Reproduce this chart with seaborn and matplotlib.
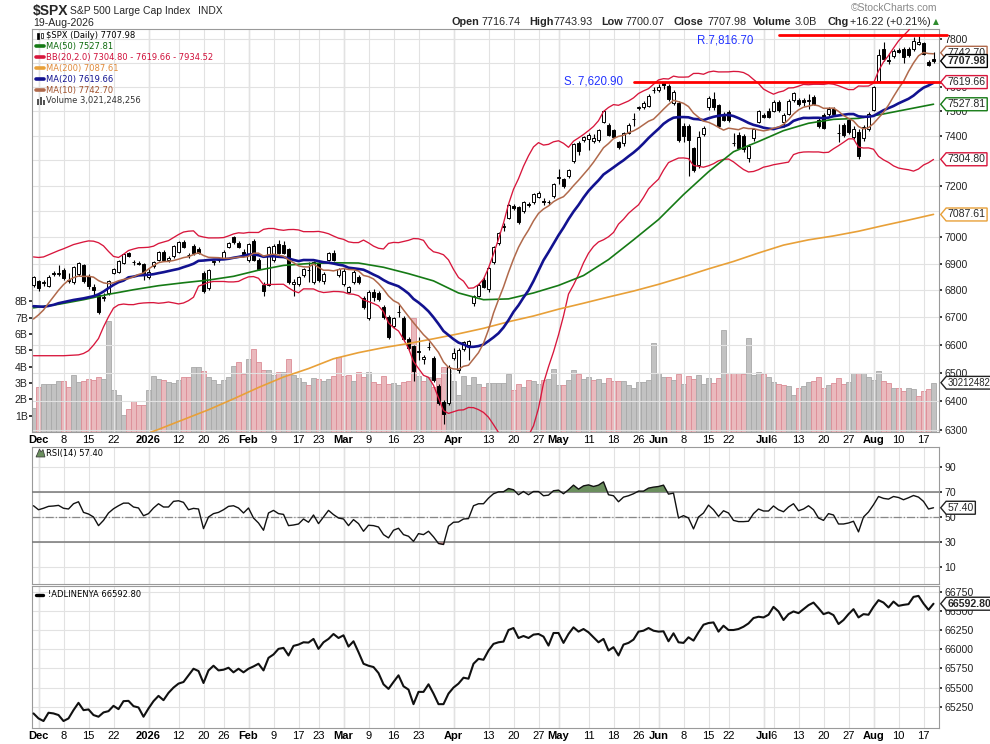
import numpy as np
import pandas as pd
import matplotlib
matplotlib.use("Agg")
import matplotlib.pyplot as plt
import seaborn as sns
from matplotlib.lines import Line2D
from matplotlib.patches import Rectangle
from matplotlib.path import Path
from matplotlib.ticker import FixedLocator, NullLocator, FuncFormatter

sns.set_theme(style="white")
plt.rcParams['font.family'] = ['DejaVu Sans']

# --- $SPX daily candles, Nov 28 2025 .. Aug 19 2026 ---
opens = [
    6820, 6835, 6826, 6817, 6866, 6862, 6876, 6838, 6829, 6860,
    6895, 6853, 6812, 6781, 6770, 6790, 6866, 6870, 6901, 6939,
    6906, 6903, 6898, 6850, 6889, 6915, 6944, 6914, 6927, 6945,
    6982, 6932, 6968, 6955, 6866, 6808, 6905, 6912, 6922, 6964,
    7000, 6977, 6945, 6914, 6987, 6914, 6820, 6820, 6914, 6975,
    6970, 6955, 6825, 6823, 6857, 6877, 6831, 6901, 6835, 6914,
    6941, 6857, 6823, 6795, 6831, 6851, 6770, 6698, 6795, 6791,
    6737, 6703, 6669, 6721, 6699, 6623, 6595, 6578, 6548, 6592,
    6553, 6454, 6398, 6392, 6553, 6510, 6584, 6599, 6752, 6780,
    6839, 6806, 6907, 6977, 7040, 7075, 7120, 7118, 7100, 7130,
    7137, 7155, 7140, 7138, 7158, 7232, 7226, 7237, 7296, 7371,
    7383, 7388, 7380, 7383, 7457, 7443, 7423, 7376, 7369, 7410,
    7468, 7513, 7515, 7520, 7585, 7585, 7615, 7605, 7532, 7535,
    7440, 7440, 7350, 7283, 7405, 7515, 7550, 7525, 7480, 7496,
    7372, 7402, 7398, 7311, 7389, 7455, 7484, 7502, 7500, 7537,
    7455, 7489, 7544, 7547, 7547, 7540, 7557, 7462, 7482, 7487,
    7509, 7410, 7441, 7462, 7396, 7415, 7389, 7428, 7505, 7626,
    7760, 7712, 7728, 7755, 7760, 7760, 7757, 7779, 7785, 7703,
    7716.74]
highs = [
    6855, 6840, 6838, 6856, 6872, 6893, 6882, 6864, 6891, 6906,
    6900, 6860, 6822, 6790, 6790, 6840, 6882, 6915, 6940, 6944,
    6915, 6910, 6902, 6880, 6908, 6948, 6950, 6928, 6972, 6985,
    6990, 6940, 6975, 6962, 6872, 6880, 6915, 6920, 6950, 6982,
    7005, 6985, 6955, 6978, 6995, 6920, 6830, 6968, 6975, 6990,
    6985, 6960, 6842, 6852, 6882, 6907, 6910, 6908, 6870, 6945,
    6950, 6882, 6882, 6815, 6875, 6858, 6778, 6800, 6805, 6798,
    6745, 6710, 6702, 6745, 6705, 6630, 6600, 6630, 6565, 6610,
    6560, 6462, 6405, 6528, 6590, 6590, 6615, 6618, 6784, 6826,
    6848, 6886, 6968, 7020, 7055, 7130, 7128, 7122, 7140, 7138,
    7170, 7178, 7150, 7145, 7212, 7265, 7232, 7265, 7370, 7378,
    7400, 7410, 7405, 7428, 7505, 7450, 7428, 7380, 7415, 7450,
    7490, 7522, 7540, 7570, 7600, 7612, 7622, 7612, 7585, 7540,
    7450, 7448, 7355, 7420, 7438, 7560, 7580, 7530, 7495, 7505,
    7410, 7415, 7405, 7365, 7432, 7505, 7492, 7512, 7545, 7545,
    7490, 7548, 7580, 7555, 7555, 7571, 7565, 7470, 7490, 7515,
    7515, 7445, 7450, 7470, 7440, 7425, 7442, 7495, 7605, 7760,
    7790, 7740, 7760, 7765, 7768, 7768, 7810, 7815, 7790, 7712,
    7743.93]
lows = [
    6812, 6798, 6815, 6812, 6852, 6852, 6840, 6827, 6825, 6855,
    6828, 6805, 6778, 6712, 6760, 6782, 6860, 6865, 6898, 6925,
    6895, 6893, 6840, 6843, 6884, 6910, 6908, 6905, 6922, 6940,
    6958, 6920, 6932, 6935, 6790, 6800, 6895, 6905, 6918, 6960,
    6975, 6958, 6930, 6905, 6910, 6875, 6778, 6815, 6905, 6935,
    6935, 6825, 6778, 6815, 6850, 6831, 6825, 6832, 6825, 6908,
    6908, 6850, 6815, 6788, 6825, 6822, 6730, 6690, 6760, 6760,
    6695, 6620, 6660, 6700, 6615, 6582, 6470, 6545, 6530, 6580,
    6468, 6388, 6320, 6385, 6545, 6500, 6578, 6545, 6740, 6775,
    6808, 6795, 6900, 6970, 7025, 7070, 7105, 7050, 7095, 7115,
    7130, 7150, 7125, 7125, 7150, 7205, 7190, 7230, 7290, 7320,
    7375, 7340, 7372, 7375, 7450, 7398, 7390, 7345, 7360, 7405,
    7440, 7505, 7510, 7515, 7575, 7580, 7590, 7540, 7525, 7375,
    7375, 7240, 7255, 7270, 7398, 7505, 7505, 7430, 7460, 7455,
    7360, 7345, 7335, 7295, 7380, 7450, 7470, 7470, 7495, 7495,
    7435, 7485, 7538, 7520, 7522, 7510, 7525, 7430, 7425, 7480,
    7480, 7375, 7395, 7405, 7385, 7305, 7380, 7420, 7500, 7620,
    7710, 7695, 7720, 7740, 7700, 7725, 7750, 7775, 7735, 7688,
    7700.07]
closes = [
    6849, 6810, 6830, 6849, 6860, 6865, 6845, 6836, 6886, 6901,
    6833, 6815, 6800, 6720, 6775, 6835, 6878, 6911, 6935, 6930,
    6904, 6900, 6857, 6870, 6904, 6945, 6915, 6922, 6968, 6980,
    6964, 6934, 6939, 6940, 6797, 6876, 6910, 6914, 6945, 6977,
    6980, 6964, 6936, 6974, 6914, 6880, 6797, 6964, 6968, 6939,
    6941, 6829, 6832, 6849, 6878, 6874, 6907, 6838, 6862, 6941,
    6914, 6878, 6872, 6812, 6870, 6829, 6737, 6795, 6774, 6768,
    6703, 6630, 6697, 6718, 6623, 6590, 6506, 6576, 6558, 6593,
    6474, 6394, 6354, 6522, 6571, 6580, 6610, 6614, 6780, 6820,
    6814, 6882, 6964, 7017, 7042, 7123, 7113, 7060, 7135, 7125,
    7167, 7172, 7135, 7136, 7208, 7234, 7197, 7262, 7366, 7336,
    7396, 7402, 7392, 7423, 7502, 7403, 7396, 7353, 7409, 7443,
    7466, 7515, 7532, 7563, 7587, 7601, 7606, 7549, 7580, 7383,
    7400, 7383, 7263, 7393, 7430, 7553, 7515, 7437, 7465, 7462,
    7370, 7350, 7345, 7356, 7428, 7502, 7476, 7476, 7537, 7503,
    7484, 7540, 7574, 7530, 7536, 7544, 7530, 7438, 7432, 7509,
    7487, 7409, 7402, 7415, 7428, 7317, 7435, 7487, 7599, 7735,
    7718, 7708, 7752, 7748, 7725, 7732, 7793, 7788, 7739, 7692,
    7707.98]
volume_b = [
    1.47, 2.78, 2.94, 2.94, 2.94, 3.15, 3.15, 2.78, 3.52, 3.09,
    3.15, 3.25, 3.20, 3.39, 3.25, 6.79, 2.58, 2.29, 1.04, 1.41,
    1.92, 1.68, 1.68, 2.58, 3.45, 3.25, 3.18, 3.04, 3.00, 3.18,
    3.35, 3.35, 4.00, 3.96, 3.76, 3.39, 3.18, 2.94, 3.18, 3.35,
    4.07, 4.27, 3.56, 4.48, 5.09, 4.27, 3.80, 3.82, 3.52, 3.66,
    3.70, 4.48, 3.52, 3.31, 3.04, 2.90, 3.31, 3.25, 3.15, 3.25,
    3.45, 4.58, 3.45, 3.52, 3.11, 3.66, 3.35, 3.66, 3.04, 2.94,
    3.45, 2.94, 2.98, 2.90, 3.04, 3.15, 6.99, 3.45, 3.15, 3.35,
    2.78, 3.31, 3.96, 3.80, 3.15, 2.29, 3.45, 2.90, 3.39, 2.94,
    2.78, 2.98, 3.00, 2.98, 3.00, 3.56, 2.58, 2.94, 2.74, 3.20,
    3.10, 2.94, 3.20, 3.25, 3.87, 2.90, 2.90, 3.20, 3.80, 3.56,
    3.25, 3.35, 3.20, 3.25, 3.00, 3.30, 3.10, 3.10, 3.10, 2.90,
    2.70, 3.06, 3.06, 3.20, 5.45, 3.62, 3.35, 3.35, 3.20, 3.56,
    2.94, 3.45, 3.25, 3.50, 2.94, 3.30, 3.00, 3.30, 6.26, 3.62,
    3.62, 3.62, 3.56, 5.77, 3.50, 3.66, 3.56, 3.40, 3.04, 2.94,
    2.90, 2.80, 2.29, 2.70, 2.80, 3.06, 3.15, 3.40, 2.70, 2.90,
    3.00, 3.30, 2.94, 3.06, 3.62, 3.62, 3.62, 3.40, 3.20, 3.72,
    3.10, 3.00, 2.70, 2.70, 2.50, 2.70, 2.64, 2.23, 2.50, 2.64,
    3.02]
rsi = [
    59.0, 55.8, 57.0, 58.5, 58.8, 59.3, 57.0, 56.4, 60.6, 62.2,
    53.7, 52.4, 50.0, 43.1, 47.3, 53.2, 56.6, 59.0, 61.1, 61.1,
    58.0, 57.2, 51.0, 52.7, 57.2, 60.6, 58.0, 58.0, 62.5, 63.0,
    61.7, 55.8, 56.9, 56.4, 40.7, 50.0, 52.7, 53.7, 55.8, 58.5,
    59.0, 57.2, 53.2, 57.2, 49.2, 45.2, 39.4, 53.2, 55.3, 52.7,
    52.1, 43.1, 43.6, 44.4, 48.4, 45.8, 51.6, 44.7, 50.0, 55.3,
    51.9, 49.2, 48.4, 43.1, 47.9, 44.7, 38.6, 43.4, 43.1, 42.0,
    35.9, 33.3, 39.4, 41.0, 35.9, 34.6, 30.5, 36.7, 35.9, 38.6,
    34.1, 28.8, 28.0, 42.6, 45.8, 46.0, 48.4, 48.7, 59.0, 60.6,
    60.6, 65.1, 68.6, 70.1, 70.2, 72.8, 71.8, 67.8, 70.4, 67.8,
    70.4, 70.4, 67.0, 67.5, 71.0, 71.5, 68.6, 71.8, 75.5, 72.3,
    74.9, 75.7, 74.4, 75.5, 78.1, 67.8, 67.0, 62.2, 65.9, 67.0,
    68.6, 70.7, 70.7, 73.1, 73.9, 74.4, 75.5, 68.3, 69.1, 49.2,
    51.1, 49.2, 40.5, 50.0, 53.2, 59.5, 55.8, 50.5, 55.0, 53.2,
    47.3, 46.3, 46.3, 46.6, 52.7, 56.4, 54.8, 54.8, 58.8, 55.8,
    54.2, 58.0, 60.6, 55.0, 56.4, 59.0, 55.8, 49.2, 47.3, 52.7,
    51.6, 44.4, 44.4, 45.2, 46.6, 38.1, 50.0, 54.0, 59.8, 66.4,
    64.9, 64.3, 66.4, 65.6, 63.8, 65.4, 67.2, 65.9, 62.5, 56.4,
    57.4]
adline = [
    65162, 65097, 65063, 65171, 65162, 65141, 65063, 65097, 65205, 65300,
    65205, 65214, 65141, 65119, 65175, 65192, 65261, 65218, 65322, 65326,
    65257, 65240, 65119, 65227, 65322, 65391, 65335, 65430, 65499, 65551,
    65572, 65659, 65745, 65715, 65559, 65723, 65784, 65723, 65732, 65758,
    65698, 65745, 65698, 65745, 65775, 65810, 65723, 65887, 65931, 66004,
    66017, 65918, 66043, 66060, 66090, 66086, 66134, 66004, 66090, 66134,
    66198, 66146, 66181, 66034, 66103, 65961, 65810, 65784, 65767, 65689,
    65542, 65482, 65572, 65659, 65516, 65473, 65283, 65443, 65443, 65542,
    65421, 65283, 65283, 65421, 65499, 65551, 65628, 65615, 65810, 65874,
    65862, 65982, 66069, 66090, 66099, 66250, 66276, 66146, 66172, 66146,
    66190, 66198, 66164, 66047, 66211, 66211, 66082, 66198, 66285, 66229,
    66263, 66220, 66155, 66090, 66134, 65983, 66026, 65918, 66060, 66082,
    66125, 66229, 66241, 66276, 66241, 66229, 66233, 66103, 66207, 66090,
    66082, 66155, 66112, 66220, 66319, 66341, 66349, 66229, 66306, 66250,
    66250, 66263, 66293, 66336, 66406, 66423, 66414, 66449, 66552, 66492,
    66380, 66457, 66492, 66470, 66522, 66574, 66608, 66535, 66457, 66479,
    66444, 66328, 66380, 66457, 66522, 66414, 66457, 66449, 66552, 66639,
    66608, 66544, 66621, 66565, 66578, 66587, 66682, 66695, 66595, 66513,
    66592.8]

# overlay values before enough history exists in the window
ma10_head = [6694, 6709, 6727, 6752, 6776, 6800, 6821, 6837, 6847]
ma20_head = [6741, 6740, 6739, 6742, 6746, 6752, 6756, 6760, 6764, 6767,
             6770, 6774, 6778, 6785, 6795, 6808, 6820, 6830, 6836]
bb_up_head = [6925, 6923, 6925, 6933, 6941, 6949, 6956, 6964, 6972, 6977,
              6982, 6986, 6985, 6979, 6967, 6946, 6927, 6923, 6935]
bb_lo_head = [6561, 6561, 6561, 6561, 6561, 6561, 6561, 6562, 6563, 6564,
              6569, 6579, 6599, 6623, 6665, 6702, 6734, 6746, 6749]
# long averages, read once a week (every 5th session)
ma50_days = list(range(0, 181, 5))
ma50_vals = [6735, 6748, 6765, 6785, 6802, 6817, 6828, 6838, 6852, 6875,
             6893, 6900, 6903, 6902, 6886, 6862, 6835, 6790, 6765, 6768,
             6790, 6818, 6855, 6915, 6990, 7068, 7165, 7255, 7335, 7376,
             7420, 7450, 7466, 7470, 7488, 7508, 7528]
ma200_days = list(range(20, 181, 5))
ma200_vals = [6270, 6302, 6336, 6370, 6408, 6448, 6485, 6515, 6550, 6572,
              6590, 6605, 6622, 6640, 6660, 6684, 6705, 6730, 6752, 6775,
              6797, 6822, 6850, 6880, 6908, 6940, 6970, 6990, 7005, 7023,
              7045, 7066, 7088]

support, resistance = 7620.90, 7816.70

tick_idx = [1, 6, 11, 16, 23, 29, 34, 38, 43, 48, 53, 57, 62, 67, 72, 77, 84, 91,
            96, 101, 105, 111, 116, 121, 125, 130, 135, 139, 146, 148, 153, 158,
            163, 168, 173, 178]
tick_lab = ['Dec', '8', '15', '22', '2026', '12', '20', '26', 'Feb', '9', '17', '23',
            'Mar', '9', '16', '23', 'Apr', '13', '20', '27', 'May', '11', '18', '26',
            'Jun', '8', '15', '22', 'Jul', '6', '13', '20', '27', 'Aug', '10', '17']
month_lab = {'Dec', '2026', 'Feb', 'Mar', 'Apr', 'May', 'Jun', 'Jul', 'Aug'}

# ---------------- derived ----------------
o = np.array(opens); h = np.array(highs); l = np.array(lows); c = np.array(closes)
n = len(c)
x = np.arange(n)
cs = pd.Series(c)
ma10 = cs.rolling(10).mean().to_numpy(); ma10[:9] = ma10_head
ma20 = cs.rolling(20).mean().to_numpy()
sd20 = cs.rolling(20).std(ddof=0).to_numpy()
bb_up = ma20 + 2 * sd20; bb_lo = ma20 - 2 * sd20
ma20[:19] = ma20_head; bb_up[:19] = bb_up_head; bb_lo[:19] = bb_lo_head
down_day = np.r_[False, np.diff(c) < 0]

W, H = 990, 744
fig = plt.figure(figsize=(W / 100, H / 100), dpi=100)
fig.patch.set_facecolor('white')


def box(x0, y0, x1, y1):
    return [x0 / W, 1 - y1 / H, (x1 - x0) / W, (y1 - y0) / H]


def ftext(px, py, s, **kw):
    return fig.text(px / W, 1 - py / H, s, **kw)


XL = (-0.3, 181.1)
GRID = '#e2e2e2'
MONTH = '#c4c4c4'
SPINE = '#9a9a9a'
AF = 'Liberation Sans'   # axis label font
YS = 7.6                 # y tick label size
XS = 8.0                 # x tick label size
LS = 6.0                 # in-panel legend size

ax_vol = fig.add_axes(box(32, 29, 939, 432))
ax = fig.add_axes(box(32, 29, 939, 432))
ax_rsi = fig.add_axes(box(32, 447, 939, 584))
ax_ad = fig.add_axes(box(32, 586, 939, 728))

for a in (ax_vol, ax, ax_rsi, ax_ad):
    a.set_xlim(*XL)
    for s in a.spines.values():
        s.set_color(SPINE); s.set_linewidth(0.8)
ax.patch.set_alpha(0)
for s in ax_vol.spines.values():
    s.set_visible(False)


def tag_shape(x0, y0, width, height, mutation_size):
    # rectangle with a small point on its left side (price tag)
    pad = 0.14 * mutation_size
    x0, y0, width, height = x0 - pad, y0 - pad, width + 2 * pad, height + 2 * pad
    tip = 0.42 * height
    verts = [(x0, y0), (x0 + width, y0), (x0 + width, y0 + height), (x0, y0 + height),
             (x0 - tip, y0 + height / 2), (x0, y0), (x0, y0)]
    return Path(verts, closed=True)


def tag(a, yval, txt, col, wt='normal', size=YS):
    a.text(1.0095, yval, txt, transform=a.get_yaxis_transform(), va='center', ha='left',
           fontsize=size, fontweight=wt, family=AF, clip_on=False, zorder=10,
           bbox=dict(boxstyle=tag_shape, fc='white', ec=col, lw=1.0))


def style_ticks(a, xlabels=True):
    for lab in a.get_yticklabels():
        lab.set_family(AF)
    if xlabels:
        for lab in a.get_xticklabels():
            lab.set_family(AF)
            if lab.get_text() in month_lab:
                lab.set_fontweight('bold')


# ---------------- volume ----------------
ax_vol.bar(x, np.array(volume_b) * 1e9, width=1.0,
           color=np.where(down_day, '#eab9bd', '#c2c2c2'),
           edgecolor=np.where(down_day, '#dc8d96', '#a9a9a9'), linewidth=0.6, zorder=1)
ax_vol.set_ylim(0, 24.7e9)
ax_vol.set_yticks([k * 1e9 for k in range(1, 9)], [f'{k}B' for k in range(1, 9)])
ax_vol.tick_params(axis='y', labelsize=YS, length=2, pad=1, colors='#222', left=True)
ax_vol.set_xticks([])
style_ticks(ax_vol, xlabels=False)
tag(ax_vol, volume_b[-1] * 1e9, '30212482', '#222', size=6.9)

# ---------------- price ----------------
ax.set_yscale('log')
ax.set_ylim(6293, 7844)
levels = [v for v in range(6300, 7801, 100) if v not in (7100, 7300, 7700)]
ax.yaxis.set_major_locator(FixedLocator(levels))
ax.yaxis.set_minor_locator(NullLocator())
ax.yaxis.set_major_formatter(FuncFormatter(lambda v, p: f'{v:.0f}'))
ax.yaxis.tick_right()
ax.tick_params(axis='y', labelsize=YS, length=2, pad=2, colors='#222')
ax.set_xticks(tick_idx, tick_lab)
ax.tick_params(axis='x', labelsize=XS, length=0, pad=2, colors='black')
ax.grid(True, color=GRID, linewidth=0.8)
ax.set_axisbelow(True)
for v in (7100, 7300, 7700):
    ax.axhline(v, color=GRID, linewidth=0.8, zorder=0.5)

for m in [i for i, t in zip(tick_idx, tick_lab) if t in month_lab]:
    for a in (ax, ax_rsi, ax_ad):
        a.axvline(m, color=MONTH, linewidth=0.9, zorder=0.5)

# candles
up_body = c >= o
ax.vlines(x, l, h, color='black', linewidth=0.8, zorder=3)
ax.bar(x, np.maximum(np.abs(c - o), 1.5), bottom=np.minimum(o, c), width=0.72,
       color=np.where(up_body, 'white', 'black'), edgecolor='black', linewidth=0.7, zorder=4)

# overlays
sns.lineplot(x=x, y=bb_up, ax=ax, color='#d8163c', linewidth=0.95, legend=False, zorder=5)
sns.lineplot(x=x, y=bb_lo, ax=ax, color='#d8163c', linewidth=0.95, legend=False, zorder=5)
sns.lineplot(x=ma200_days, y=ma200_vals, ax=ax, color='#e8a038', linewidth=1.2, legend=False, zorder=5)
sns.lineplot(x=ma50_days, y=ma50_vals, ax=ax, color='#157a15', linewidth=1.2, legend=False, zorder=5)
sns.lineplot(x=x, y=ma20, ax=ax, color='#121290', linewidth=1.9, legend=False, zorder=6)
sns.lineplot(x=x, y=ma10, ax=ax, color='#b0694b', linewidth=1.1, legend=False, zorder=6)
ax.set_xlim(*XL)
ax.set_ylim(6293, 7844)
ax.set_xlabel(''); ax.set_ylabel('')
style_ticks(ax)

# support / resistance
ax.plot([120, 182.6], [support, support], color='#ff0000', linewidth=2, clip_on=False, zorder=7)
ax.plot([149, 182.6], [resistance, resistance], color='#ff0000', linewidth=2, clip_on=False, zorder=7)
ax.text(106, 7624, 'S. 7,620.90', color='#2233ff', fontsize=8.3, va='center', ha='left',
        family=AF, zorder=8)
ax.text(132.7, 7793, 'R.7,816.70', color='#2233ff', fontsize=8.3, va='center', ha='left',
        family=AF, zorder=8)

# value tags on the right edge
for val, txt, col, wt in [(7087.61, '7087.61', '#e8a038', 'normal'),
                          (7304.80, '7304.80', '#d8163c', 'normal'),
                          (7527.81, '7527.81', '#157a15', 'normal'),
                          (7619.66, '7619.66', '#d8163c', 'normal'),
                          (7742.70, '7742.70', '#b0694b', 'normal'),
                          (7707.98, '7707.98', '#000000', 'bold')]:
    tag(ax, val, txt, col, wt)

# legend of the main panel
leg = [('$SPX (Daily) 7707.98', 'black', None),
       ('MA(50) 7527.81', '#0d6a0d', '#157a15'),
       ('BB(20,2.0) 7304.80 - 7619.66 - 7934.52', '#d0103a', '#d8163c'),
       ('MA(200) 7087.61', '#e08a3a', '#e8a038'),
       ('MA(20) 7619.66', '#121290', '#121290'),
       ('MA(10) 7742.70', '#a0522d', '#b0694b'),
       ('Volume 3,021,248,256', '#333333', None)]
for k, (txt, tcol, lcol) in enumerate(leg):
    yy = 35.5 + k * 10.9
    ftext(46, yy, txt, color=tcol, fontsize=LS, va='center', ha='left')
    if lcol is not None:
        fig.add_artist(Line2D([36 / W, 44 / W], [1 - yy / H] * 2, color=lcol, linewidth=2.6))
for px, ph in [(37, 6), (40, 8), (43, 5)]:
    fig.add_artist(Rectangle((px / W, 1 - 104.5 / H), 2 / W, ph / H, color='#555', lw=0))
fig.add_artist(Rectangle((36.5 / W, 1 - 39 / H), 2.5 / W, 6 / H, fc='black', ec='black', lw=0.5))
fig.add_artist(Rectangle((40.5 / W, 1 - 38 / H), 2.5 / W, 5 / H, fc='white', ec='black', lw=0.5))

# ---------------- RSI ----------------
r = np.array(rsi)
sns.lineplot(x=x, y=r, ax=ax_rsi, color='#111111', linewidth=1.0, legend=False, zorder=5)
ax_rsi.fill_between(x, r, 70, where=r >= 70, interpolate=True, color='#6b8f5e', zorder=4, lw=0)
ax_rsi.fill_between(x, r, 30, where=r <= 30, interpolate=True, color='#c87c7c', zorder=4, lw=0)
ax_rsi.axhline(70, color='#777', linewidth=1.1, zorder=3)
ax_rsi.axhline(30, color='#777', linewidth=1.1, zorder=3)
ax_rsi.axhline(50, color='#888', linewidth=0.9, linestyle='-.', zorder=3)
ax_rsi.set_ylim(-3.6, 106)
ax_rsi.set_xlim(*XL)
ax_rsi.set_yticks([10, 30, 50, 70, 90])
ax_rsi.yaxis.tick_right()
ax_rsi.tick_params(axis='y', labelsize=YS, length=2, pad=2, colors='#222')
ax_rsi.set_xticks(tick_idx)
ax_rsi.tick_params(axis='x', labelbottom=False, length=0)
ax_rsi.grid(True, color=GRID, linewidth=0.8)
ax_rsi.set_axisbelow(True)
ax_rsi.set_xlabel(''); ax_rsi.set_ylabel('')
style_ticks(ax_rsi, xlabels=False)
tag(ax_rsi, 57.40, '57.40', '#222')
ftext(46, 453.5, 'RSI(14) 57.40', fontsize=LS, va='center', ha='left', color='black')
fig.add_artist(plt.Polygon([[36 / W, 1 - 457 / H], [39.5 / W, 1 - 449 / H], [41 / W, 1 - 452 / H],
                            [43 / W, 1 - 449.5 / H], [45 / W, 1 - 457 / H]],
                           closed=True, fc='#6b8f5e', ec='#333', lw=0.5))

# ---------------- A/D line ----------------
sns.lineplot(x=x, y=adline, ax=ax_ad, color='#111111', linewidth=1.5, legend=False, zorder=5)
ax_ad.set_ylim(64972, 66824)
ax_ad.set_xlim(*XL)
ax_ad.set_yticks(list(range(65250, 66751, 250)))
ax_ad.yaxis.tick_right()
ax_ad.tick_params(axis='y', labelsize=YS, length=2, pad=2, colors='#222')
ax_ad.set_xticks(tick_idx, tick_lab)
ax_ad.tick_params(axis='x', labelsize=XS, length=0, pad=2, colors='black')
ax_ad.grid(True, color=GRID, linewidth=0.8)
ax_ad.set_axisbelow(True)
ax_ad.set_xlabel(''); ax_ad.set_ylabel('')
style_ticks(ax_ad)
tag(ax_ad, adline[-1], '66592.80', '#222', 'bold')
ftext(48, 594.5, '!ADLINENYA 66592.80', fontsize=LS, va='center', ha='left', color='black')
fig.add_artist(Line2D([36 / W, 43 / W], [1 - 594.5 / H] * 2, color='black', linewidth=2.4))

# ---------------- header ----------------
hf = 'Liberation Sans'
ftext(33, 11, '$SPX', fontsize=10, fontweight='bold', family=hf, va='center')
ftext(70, 11.5, 'S&P 500 Large Cap Index', fontsize=7.5, family=hf, va='center')
ftext(198, 11.5, 'INDX', fontsize=7.4, family=hf, va='center')
ftext(33, 23.5, '19-Aug-2026', fontsize=7.6, family=hf, va='center')
ftext(851, 8, '\u00a9StockCharts.com', fontsize=7.5, family=hf, va='center', color='#888')
pieces = [(451, 'Open', 'bold'), (482, '7716.74', 'normal'), (529, 'High', 'bold'),
          (553, '7743.93', 'normal'), (601, 'Low', 'bold'), (625, '7700.07', 'normal'),
          (673, 'Close', 'bold'), (707, '7707.98', 'normal'), (753, 'Volume', 'bold'),
          (795, '3.0B', 'normal'), (827, 'Chg', 'bold'), (850, '+16.22 (+0.21%)', 'normal')]
for px, s, wt in pieces:
    ftext(px, 22, s, fontsize=7.8, fontweight=wt, family=hf, va='center')
ftext(933, 22, '\u25b2', fontsize=5.5, color='#2e8b2e', va='center')

fig.savefig('out.png', dpi=100, facecolor='white')
